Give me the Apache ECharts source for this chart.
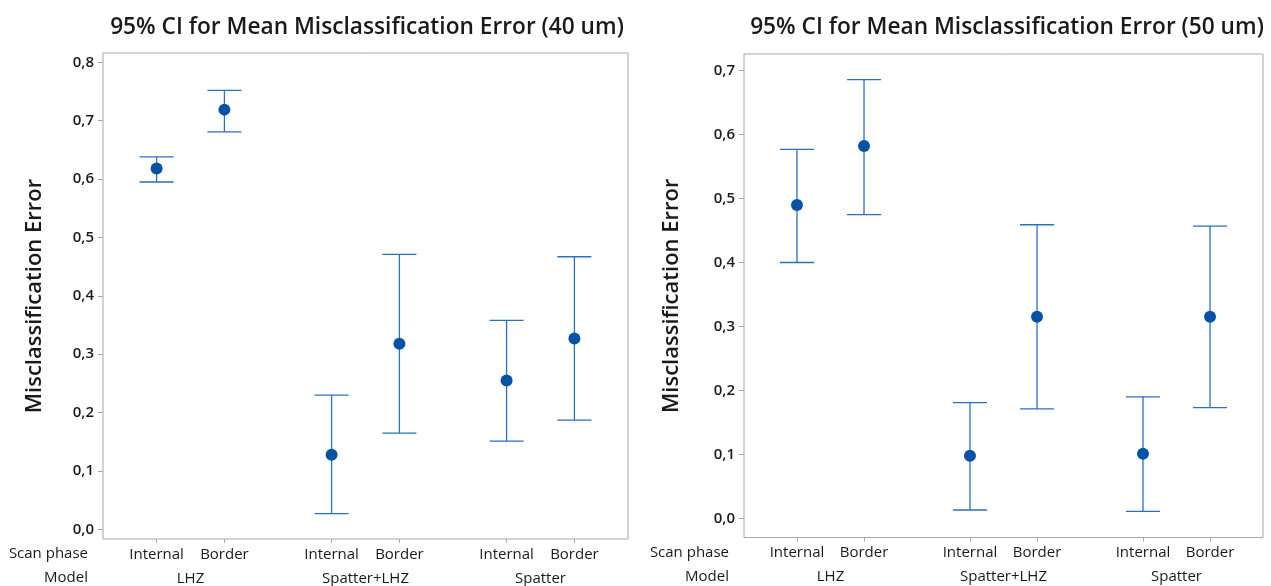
<!DOCTYPE html>
<html>
<head>
<meta charset="utf-8">
<title>95% CI for Mean Misclassification Error</title>
<script src="https://cdn.jsdelivr.net/npm/echarts@6/dist/echarts.min.js"></script>
<style>
  html, body { margin: 0; padding: 0; background: #fff; }
  #chart { width: 1271px; height: 586px; }
</style>
</head>
<body>
<div id="chart"></div>
<script>
// Groups and scan phases shown along the x axis
const models = ['LHZ', 'Spatter+LHZ', 'Spatter'];
const phases = ['Internal', 'Border'];

// 40 um: mean misclassification error with 95% CI bounds (LHZ I/B, Spatter+LHZ I/B, Spatter I/B)
const mean40  = [0.618, 0.719, 0.128, 0.318, 0.255, 0.327];
const lower40 = [0.595, 0.681, 0.027, 0.165, 0.151, 0.187];
const upper40 = [0.638, 0.752, 0.230, 0.471, 0.358, 0.467];

// 50 um
const mean50  = [0.490, 0.582, 0.098, 0.315, 0.101, 0.315];
const lower50 = [0.400, 0.475, 0.013, 0.171, 0.011, 0.173];
const upper50 = [0.577, 0.686, 0.181, 0.459, 0.190, 0.457];

// Y tick values
const yTicks40 = [0, 0.1, 0.2, 0.3, 0.4, 0.5, 0.6, 0.7, 0.8];
const yTicks50 = [0, 0.1, 0.2, 0.3, 0.4, 0.5, 0.6, 0.7];

// ---- layout ----
const FONT = "'Open Sans', 'Noto Sans', sans-serif";
const GROUP_STEP = 2.58;   // spacing between model groups (in phase units)
const X_PAD = 0.79;
const LINE_COLOR = '#2a6fc0';
const DOT_COLOR = '#0653a6';
const TEXT_COLOR = '#1a1a1a';
const FRAME_COLOR = '#a8a8a8';

const xPos = [];
models.forEach((m, g) => phases.forEach((p, i) => xPos.push(g * GROUP_STEP + i)));
const groupCenters = models.map((m, g) => g * GROUP_STEP + 0.5);
const X_MIN = -X_PAD;
const X_MAX = (models.length - 1) * GROUP_STEP + 1 + X_PAD;

function phaseLabel(v) {
  const k = xPos.findIndex(p => Math.abs(p - v) < 1e-6);
  return k < 0 ? '' : phases[k % phases.length];
}
function modelLabel(v) {
  const k = groupCenters.findIndex(p => Math.abs(p - v) < 1e-6);
  return k < 0 ? '' : models[k];
}
const fmtComma = v => v.toFixed(1).replace('.', ',');

const panels = [
  { title: '95% CI for Mean Misclassification Error (40 um)', mean: mean40, lower: lower40, upper: upper40,
    ticks: yTicks40, yMin: -0.0165, yMax: 0.816,
    grid: { left: 103, top: 53, width: 525, height: 486 }, titleX: 362, nameGap: 57 },
  { title: '95% CI for Mean Misclassification Error (50 um)', mean: mean50, lower: lower50, upper: upper50,
    ticks: yTicks50, yMin: -0.030, yMax: 0.726,
    grid: { left: 744, top: 54, width: 519, height: 483.5 }, titleX: 1002, nameGap: 61 }
];

const option = {
  backgroundColor: '#ffffff',
  animation: false,
  title: [], grid: [], xAxis: [], yAxis: [], series: [], graphic: []
};

panels.forEach((p, gi) => {
  option.title.push({
    text: p.title, left: p.titleX, top: 11, textAlign: 'center',
    textStyle: { fontFamily: FONT, fontSize: 22.7, fontWeight: 600, color: TEXT_COLOR }
  });
  option.grid.push(Object.assign({ show: true, borderColor: FRAME_COLOR, borderWidth: 1, backgroundColor: '#fff' }, p.grid));

  // Scan phase axis
  option.xAxis.push({
    type: 'value', gridIndex: gi, min: X_MIN, max: X_MAX,
    axisLine: { show: false, onZero: false }, splitLine: { show: false },
    axisTick: { show: true, customValues: xPos, length: 4, lineStyle: { color: FRAME_COLOR } },
    axisLabel: { customValues: xPos, formatter: phaseLabel, margin: 8, fontFamily: FONT, fontSize: 15, color: TEXT_COLOR }
  });
  // Model axis (second row)
  option.xAxis.push({
    type: 'value', gridIndex: gi, min: X_MIN, max: X_MAX, position: 'bottom', offset: 24,
    axisLine: { show: false, onZero: false }, axisTick: { show: false }, splitLine: { show: false },
    axisLabel: { customValues: groupCenters, formatter: modelLabel, margin: 8, fontFamily: FONT, fontSize: 15, color: TEXT_COLOR }
  });

  option.yAxis.push({
    type: 'value', gridIndex: gi, min: p.yMin, max: p.yMax,
    name: 'Misclassification Error', nameLocation: 'middle', nameGap: p.nameGap,
    nameTextStyle: { fontFamily: FONT, fontSize: 22, fontWeight: 600, color: TEXT_COLOR },
    axisLine: { show: false, onZero: false }, splitLine: { show: false },
    axisTick: { show: true, customValues: p.ticks, length: 5, lineStyle: { color: FRAME_COLOR } },
    axisLabel: { customValues: p.ticks, formatter: fmtComma, margin: 9, fontFamily: FONT, fontSize: 15, fontWeight: 600, color: TEXT_COLOR }
  });

  const ciData = xPos.map((x, k) => [x, p.lower[k], p.upper[k]]);
  option.series.push({
    type: 'custom', xAxisIndex: gi * 2, yAxisIndex: gi, data: ciData,
    encode: { x: 0, y: [1, 2] }, silent: true,
    renderItem: function (params, api) {
      const x = api.value(0);
      const lo = api.coord([x, api.value(1)]);
      const hi = api.coord([x, api.value(2)]);
      const cap = 17;
      const st = { stroke: LINE_COLOR, lineWidth: 1.3 };
      return {
        type: 'group',
        children: [
          { type: 'line', shape: { x1: lo[0], y1: lo[1], x2: hi[0], y2: hi[1] }, style: st },
          { type: 'line', shape: { x1: hi[0] - cap, y1: hi[1], x2: hi[0] + cap, y2: hi[1] }, style: st },
          { type: 'line', shape: { x1: lo[0] - cap, y1: lo[1], x2: lo[0] + cap, y2: lo[1] }, style: st }
        ]
      };
    }
  });
  option.series.push({
    type: 'scatter', xAxisIndex: gi * 2, yAxisIndex: gi, z: 5,
    symbol: 'circle', symbolSize: 12, itemStyle: { color: DOT_COLOR, opacity: 1 },
    data: xPos.map((x, k) => [x, p.mean[k]])
  });

  // Row headings left of the x-axis labels
  const gx = p.grid.left - 15;
  const gy = p.grid.top + p.grid.height;
  option.graphic.push(
    { type: 'text', x: gx, y: gy + 15, style: { text: 'Scan phase', align: 'right', verticalAlign: 'middle', font: '15px ' + FONT, fill: TEXT_COLOR } },
    { type: 'text', x: gx, y: gy + 39, style: { text: 'Model', align: 'right', verticalAlign: 'middle', font: '15px ' + FONT, fill: TEXT_COLOR } }
  );
});

const chart = echarts.init(document.getElementById('chart'), null, { renderer: 'canvas' });
chart.setOption(option);
</script>
</body>
</html>
